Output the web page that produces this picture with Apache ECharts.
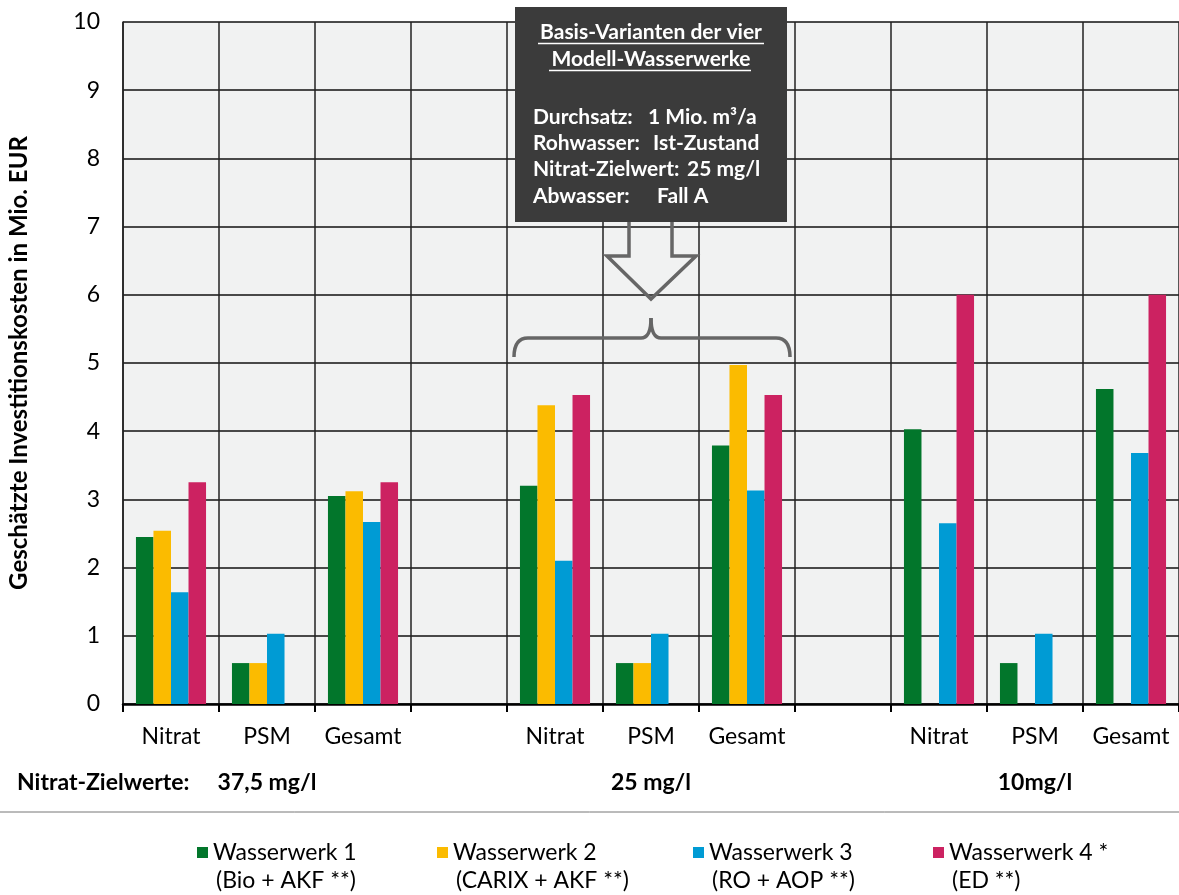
<!DOCTYPE html>
<html><head><meta charset="utf-8">
<script src="https://cdn.jsdelivr.net/npm/echarts@6/dist/echarts.min.js"></script>
<style>html,body{margin:0;padding:0;background:#fff}#c{width:1179px;height:895px}</style>
</head><body><div id="c"></div>
<script>
const categories = ['Nitrat','PSM','Gesamt','','Nitrat','PSM','Gesamt','','Nitrat','PSM','Gesamt'];
const seriesNames = ['Wasserwerk 1','Wasserwerk 2','Wasserwerk 3','Wasserwerk 4 *'];
const seriesSub = ['(Bio + AKF **)','(CARIX + AKF **)','(RO + AOP **)','(ED **)'];
const ww1 = [2.45, 0.60, 3.05, null, 3.20, 0.60, 3.79, null, 4.03, 0.60, 4.62];
const ww2 = [2.54, 0.60, 3.12, null, 4.38, 0.60, 4.97, null, null, null, null];
const ww3 = [1.64, 1.03, 2.67, null, 2.10, 1.03, 3.13, null, 2.65, 1.03, 3.68];
const ww4 = [3.25, null, 3.25, null, 4.53, null, 4.53, null, 6.00, null, 6.00];
const yTicks = [0,1,2,3,4,5,6,7,8,9,10];
const groupLabels = ['37,5 mg/l','25 mg/l','10mg/l'];
const colors = ['#02762B','#FBBB00','#009BD4','#CC2261'];
const FONT = 'Lato';

const chart = echarts.init(document.getElementById('c'));
const catKeys = categories.map((c,i)=>c+'|'+i);
const allData = [ww1,ww2,ww3,ww4];
const legendLeft = [197, 437, 693, 933];

const option = {
  animation:false,
  textStyle:{fontFamily:FONT},
  grid:{left:123,right:0,top:22,bottom:191,show:true,backgroundColor:'#f1f2f2',borderWidth:0,outerBoundsMode:'none',containLabel:false},
  xAxis:{type:'category',data:catKeys,
    axisLine:{lineStyle:{color:'#000',width:2.5}},
    axisTick:{show:true,alignWithLabel:false,length:8,lineStyle:{color:'#000',width:2}},
    axisLabel:{formatter:v=>v.split('|')[0],color:'#000',fontSize:23,margin:21,interval:0,fontFamily:FONT},
    splitLine:{show:true,interval:0,lineStyle:{color:'#222',width:1.5}}},
  yAxis:{type:'value',min:0,max:10,interval:1,
    name:'Geschätzte Investitionskosten in Mio. EUR',nameLocation:'middle',nameGap:92,
    nameTextStyle:{fontSize:24,fontWeight:'bold',color:'#000',fontFamily:FONT},
    axisLine:{show:true,lineStyle:{color:'#222',width:1.5}},
    axisTick:{show:false},
    axisLabel:{color:'#000',fontSize:23,margin:23,fontFamily:FONT,formatter:v=>yTicks.includes(v)?String(v):''},
    splitLine:{show:true,lineStyle:{color:'#111',width:1.5}}},
  legend: seriesNames.map((n,i)=>({data:[n],left:legendLeft[i],top:841,padding:0,itemWidth:11,itemHeight:11,itemGap:0,
    icon:'rect',textStyle:{fontSize:23,color:'#000',fontFamily:FONT}})),
  series: seriesNames.map((n,i)=>({name:n,type:'bar',data:allData[i],barGap:'0%',barCategoryGap:'27%',
    itemStyle:{color:colors[i]}}))
};
chart.setOption(option);

const g = [];
const bf = 'bold 23px '+FONT;
g.push({type:'text',x:17,y:783,style:{text:'Nitrat-Zielwerte:',font:bf,fill:'#000',verticalAlign:'middle'}});
[1,5,9].forEach((ci,k)=>{
  const x = chart.convertToPixel({xAxisIndex:0}, catKeys[ci]);
  g.push({type:'text',x:x,y:783,style:{text:groupLabels[k],font:bf,fill:'#000',align:'center',verticalAlign:'middle'}});
});
g.push({type:'line',shape:{x1:0,y1:812,x2:1179,y2:812},style:{stroke:'#777',lineWidth:1}});
legendLeft.forEach((l,i)=>{
  g.push({type:'text',x:l+19,y:881,style:{text:seriesSub[i],font:'23px '+FONT,fill:'#000',verticalAlign:'middle'}});
});
// annotation box
g.push({type:'rect',shape:{x:515,y:7,width:272,height:215},style:{fill:'#3b3b3b'},z:100});
const tf = 'bold 21px '+FONT;
g.push({type:'text',x:651,y:32,z:101,style:{text:'Basis-Varianten der vier',font:tf,fill:'#fff',align:'center',verticalAlign:'middle'}});
g.push({type:'text',x:651,y:59,z:101,style:{text:'Modell-Wasserwerke',font:tf,fill:'#fff',align:'center',verticalAlign:'middle'}});
g.push({type:'line',z:101,shape:{x1:538,y1:43.5,x2:764,y2:43.5},style:{stroke:'#fff',lineWidth:1.5}});
g.push({type:'line',z:101,shape:{x1:549,y1:70.5,x2:751,y2:70.5},style:{stroke:'#fff',lineWidth:1.5}});
const rows = [['Durchsatz:','1 Mio. m³/a',648,117],['Rohwasser:','Ist-Zustand',653,143],['Nitrat-Zielwert:','25 mg/l',687,169],['Abwasser:','Fall A',657,196]];
rows.forEach(r=>{
  g.push({type:'text',x:533,y:r[3],z:101,style:{text:r[0],font:tf,fill:'#fff',verticalAlign:'middle'}});
  g.push({type:'text',x:r[2],y:r[3],z:101,style:{text:r[1],font:tf,fill:'#fff',verticalAlign:'middle'}});
});
// arrow
g.push({type:'polyline',z:99,shape:{points:[[629,222],[629,256],[607,256],[651,299],[696,256],[672,256],[672,222]]},
  style:{stroke:'#666',lineWidth:3.5,fill:null}});
// brace
const bs = {stroke:'#666',lineWidth:3.5,fill:null};
g.push({type:'bezierCurve',z:99,shape:{x1:514,y1:357,cpx1:514,cpy1:338,x2:528,y2:338},style:bs});
g.push({type:'line',z:99,shape:{x1:528,y1:338,x2:641,y2:338},style:bs});
g.push({type:'bezierCurve',z:99,shape:{x1:641,y1:338,cpx1:651,cpy1:338,x2:651,y2:318},style:bs});
g.push({type:'bezierCurve',z:99,shape:{x1:651,y1:318,cpx1:651,cpy1:338,x2:661,y2:338},style:bs});
g.push({type:'line',z:99,shape:{x1:661,y1:338,x2:776,y2:338},style:bs});
g.push({type:'bezierCurve',z:99,shape:{x1:776,y1:338,cpx1:790,cpy1:338,x2:790,y2:357},style:bs});
chart.setOption({graphic:g});
</script></body></html>
